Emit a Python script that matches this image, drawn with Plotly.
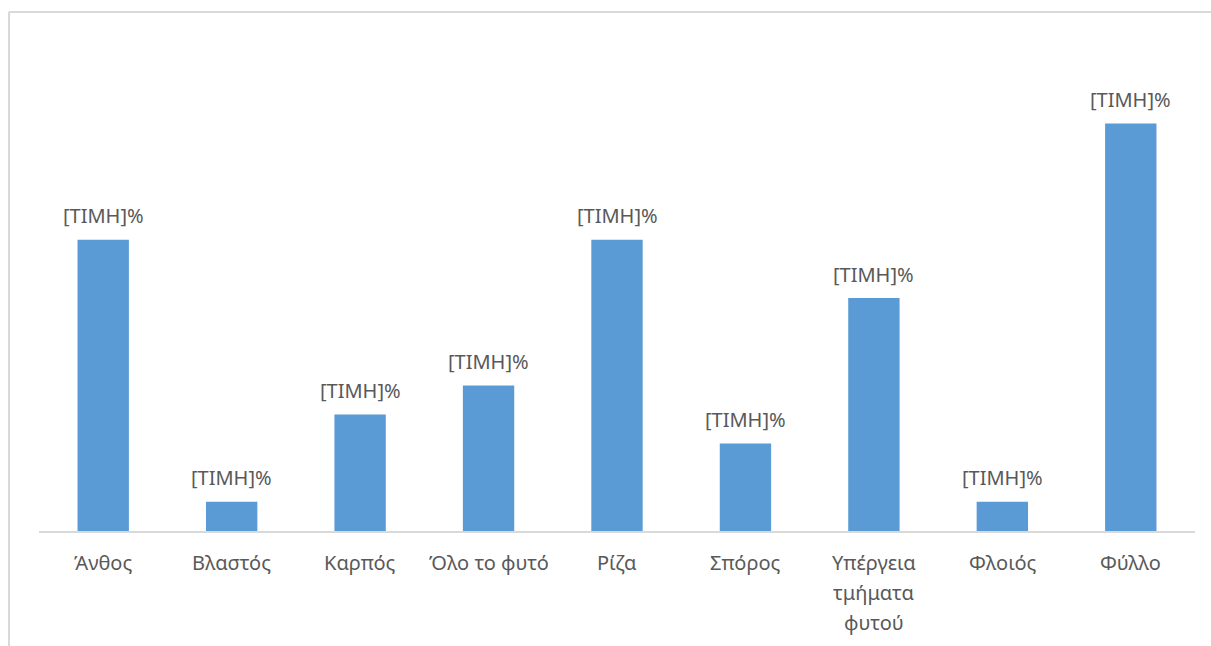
import plotly.graph_objects as go

# Plant part used (share of remedies, %)
categories = ["Άνθος", "Βλαστός", "Καρπός", "Όλο το φυτό", "Ρίζα", "Σπόρος",
              "Υπέργεια<br>τμήματα<br>φυτού", "Φλοιός", "Φύλλο"]
values = [17.86, 1.79, 7.14, 8.93, 17.86, 5.36, 14.29, 1.79, 25.0]
bar_labels = ["[ΤΙΜΗ]%"] * len(categories)

FONT = "Noto Sans, Open Sans, sans-serif"
GREY = "#595959"
LINE_GAP = 30  # spacing between lines of a wrapped category label

fig = go.Figure(
    go.Bar(
        x=categories,
        y=values,
        marker=dict(color="#5b9bd5", line=dict(width=0)),
        width=0.4,
        hoverinfo="x+y",
    )
)

annotations = []
# value labels above each bar
for cat, val, lab in zip(categories, values, bar_labels):
    annotations.append(dict(
        x=cat, y=val, xref="x", yref="y", text=lab, showarrow=False,
        yanchor="middle", yshift=24,
        font=dict(family=FONT, size=20, color=GREY),
    ))
# category labels under the axis, with wider line spacing for wrapped names
for cat in categories:
    for i, line in enumerate(cat.split("<br>")):
        annotations.append(dict(
            x=cat, y=0, xref="x", yref="paper", text=line, showarrow=False,
            yanchor="middle", yshift=-31 - LINE_GAP * i,
            font=dict(family=FONT, size=20, color=GREY),
        ))

fig.update_layout(
    width=1211,
    height=646,
    margin=dict(l=39, r=16, t=40, b=114.5),
    paper_bgcolor="white",
    plot_bgcolor="white",
    showlegend=False,
    font=dict(family=FONT, color=GREY),
    xaxis=dict(
        showline=True,
        linecolor="#d9d9d9",
        linewidth=1.5,
        ticks="",
        showgrid=False,
        showticklabels=False,
    ),
    yaxis=dict(visible=False, range=[0, 30.12], showgrid=False, zeroline=False),
    annotations=annotations,
    shapes=[
        # outer chart frame (top and left edges)
        dict(type="line", xref="paper", yref="paper",
             x0=(9 - 39) / 1156, x1=(1211 - 39) / 1156,
             y0=(531.5 - 12) / 491.5, y1=(531.5 - 12) / 491.5,
             line=dict(color="#d9d9d9", width=2)),
        dict(type="line", xref="paper", yref="paper",
             x0=(9 - 39) / 1156, x1=(9 - 39) / 1156,
             y0=(531.5 - 12) / 491.5, y1=(531.5 - 660) / 491.5,
             line=dict(color="#d9d9d9", width=2)),
    ],
)

fig.write_html("out.html")
